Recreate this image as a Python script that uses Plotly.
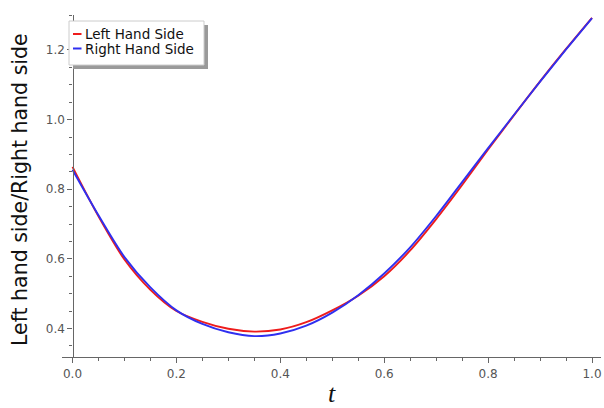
import plotly.graph_objects as go

# ---- data ----
t_vals = [0.00, 0.05, 0.10, 0.15, 0.20, 0.25, 0.30, 0.35, 0.40, 0.45, 0.50,
          0.55, 0.60, 0.65, 0.70, 0.75, 0.80, 0.85, 0.90, 0.95, 1.00]
lhs_vals = [0.864, 0.722, 0.598, 0.511, 0.450, 0.419, 0.399, 0.391, 0.397, 0.418, 0.452,
            0.494, 0.550, 0.624, 0.714, 0.812, 0.914, 1.013, 1.110, 1.203, 1.2925]
rhs_vals = [0.856, 0.725, 0.605, 0.518, 0.452, 0.413, 0.389, 0.378, 0.3855, 0.408, 0.4455,
            0.4955, 0.558, 0.633, 0.723, 0.8205, 0.918, 1.014, 1.109, 1.2015, 1.2915]
series_names = ["Left Hand Side", "Right Hand Side"]
series_colors = ["#ee1c1c", "#2f2ff0"]

W, H = 604, 408
ML, MR, MT, MB = 62, 3, 15, 51
PW, PH = W - ML - MR, H - MT - MB

def px(x):
    return (x - ML) / PW

def py(y):
    return 1 - (y - MT) / PH

fig = go.Figure()
for name, vals, col in zip(series_names, [lhs_vals, rhs_vals], series_colors):
    fig.add_trace(go.Scatter(x=t_vals, y=vals, mode="lines", name=name,
                             line=dict(color=col, width=1.9, shape="spline", smoothing=0.8),
                             showlegend=False))

axis_col = "#666666"
tick_font = dict(family="DejaVu Sans", size=12, color="#555555")

fig.update_layout(
    width=W, height=H,
    margin=dict(l=ML, r=MR, t=MT, b=MB),
    paper_bgcolor="white", plot_bgcolor="white",
    xaxis=dict(range=[-0.0202, 1.0173], showgrid=False, zeroline=False,
               showline=True, linecolor=axis_col, linewidth=1.3,
               ticks="outside", ticklen=5, tickwidth=1.2, tickcolor=axis_col,
               dtick=0.2, tick0=0, tickformat=".1f", tickfont=tick_font,
               minor=dict(dtick=0.05, tick0=0, ticks="outside", ticklen=3,
                          tickcolor=axis_col, tickwidth=1, showgrid=False),
               title=dict(text="t", font=dict(family="Liberation Serif", size=26, color="#111"),
                          standoff=6)),
    yaxis=dict(range=[0.318, 1.3005], showgrid=False, zeroline=False,
               anchor="free", position=px(72.5),
               showline=True, linecolor=axis_col, linewidth=1.3,
               ticks="outside", ticklen=5, tickwidth=1.2, tickcolor=axis_col,
               dtick=0.2, tick0=0, tickformat=".1f", tickfont=tick_font,
               minor=dict(dtick=0.05, tick0=0, ticks="outside", ticklen=3,
                          tickcolor=axis_col, tickwidth=1, showgrid=False)),
)
fig.update_xaxes(title_font_style="italic")

# y title
fig.add_annotation(text="Left hand side/Right hand side", xref="paper", yref="paper",
                   x=px(20), y=py(190), textangle=-90, showarrow=False,
                   font=dict(family="DejaVu Sans", size=20.5, color="#111"),
                   xanchor="center", yanchor="middle")

# legend (drawn box)
lx0, lx1, ly0, ly1 = 69, 204, 21, 65
fig.add_shape(type="rect", xref="paper", yref="paper",
              x0=px(lx0 + 4), x1=px(lx1 + 4), y0=py(ly0 + 4), y1=py(ly1 + 4),
              fillcolor="#9a9a9a", line=dict(width=0), layer="above")
fig.add_shape(type="rect", xref="paper", yref="paper",
              x0=px(lx0), x1=px(lx1), y0=py(ly0), y1=py(ly1),
              fillcolor="white", line=dict(color="#cccccc", width=1), layer="above")
for i, (name, col) in enumerate(zip(series_names, series_colors)):
    yy = 34 + 14.5 * i
    fig.add_shape(type="line", xref="paper", yref="paper",
                  x0=px(73), x1=px(81.5), y0=py(yy), y1=py(yy),
                  line=dict(color=col, width=2), layer="above")
    fig.add_annotation(text=name, xref="paper", yref="paper", x=px(82.5), y=py(yy),
                       xanchor="left", yanchor="middle", showarrow=False,
                       font=dict(family="DejaVu Sans", size=13.5, color="#111"))

fig.write_html("out.html")
